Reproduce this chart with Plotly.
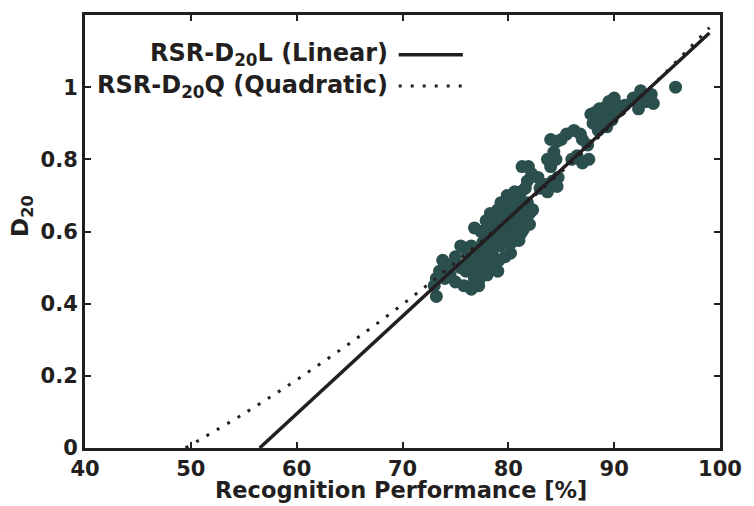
import plotly.graph_objects as go

# Scatter data: recognition performance [%] vs D20
perf = [95.8, 93.5, 93.0, 92.5, 91.8, 92.3, 93.7, 91.0, 90.5, 90.0, 89.5,
        89.0, 88.6, 88.3, 88.0, 88.8, 89.3, 89.8, 87.8, 88.5,
        86.8, 86.2, 85.5, 85.0, 87.0, 87.5, 84.0, 87.6, 87.0, 86.5, 86.0,
        84.5, 84.3, 84.0, 84.7, 84.2, 83.5, 83.0, 82.8,
        81.9, 82.2, 81.8, 81.6, 81.2, 81.0,
        80.0, 80.5, 79.5, 79.8, 80.3, 80.8, 81.3, 81.5, 82.0, 82.3,
        79.0, 79.3, 78.8, 78.5, 79.0, 79.6, 80.0, 80.4, 80.7, 81.1, 81.0,
        79.5, 79.0, 78.6, 78.2, 77.8, 78.0, 78.5, 79.2, 79.8, 80.3,
        80.2, 79.7, 79.1, 78.6, 78.1, 77.5, 77.0, 76.8, 77.4, 77.9, 78.3,
        79.9, 80.6, 81.0,
        76.5, 76.0, 75.5, 75.0, 76.3, 77.0, 77.6, 78.0, 76.8, 76.0, 75.5,
        74.8, 74.2, 73.8, 73.5, 74.5, 75.0, 75.8, 76.5, 74.0, 73.2, 73.0,
        73.2, 77.2, 78.5, 79.0,
        77.5, 77.8, 78.2, 78.8, 79.4, 80.0, 80.6, 81.2, 77.0, 76.6, 77.3,
        76.7, 78.4, 79.0, 79.5, 80.2, 80.8, 81.5, 82.0, 81.8, 80.5, 79.3,
        78.0, 77.6, 81.3, 81.9, 83.7, 84.6, 81.3, 83.7, 84.6,
        88.2, 88.7, 89.2, 89.6, 90.3, 92.8]
d20 = [1.00, 0.98, 0.96, 0.99, 0.97, 0.94, 0.955, 0.95, 0.935, 0.97, 0.96,
       0.93, 0.94, 0.915, 0.90, 0.90, 0.89, 0.91, 0.925, 0.88,
       0.87, 0.88, 0.87, 0.855, 0.855, 0.84, 0.855, 0.80, 0.79, 0.81, 0.80,
       0.80, 0.82, 0.78, 0.75, 0.74, 0.73, 0.72, 0.75,
       0.78, 0.76, 0.74, 0.72, 0.71, 0.69,
       0.68, 0.67, 0.67, 0.65, 0.65, 0.64, 0.66, 0.64, 0.65, 0.66,
       0.66, 0.64, 0.63, 0.62, 0.61, 0.62, 0.60, 0.62, 0.60, 0.59, 0.62,
       0.59, 0.58, 0.59, 0.60, 0.58, 0.56, 0.55, 0.56, 0.57, 0.57,
       0.54, 0.53, 0.52, 0.53, 0.52, 0.54, 0.55, 0.61, 0.60, 0.63, 0.65,
       0.70, 0.71, 0.575,
       0.56, 0.55, 0.56, 0.53, 0.52, 0.50, 0.49, 0.48, 0.47, 0.49, 0.50,
       0.51, 0.50, 0.52, 0.49, 0.48, 0.46, 0.45, 0.44, 0.47, 0.47, 0.45,
       0.42, 0.45, 0.50, 0.49,
       0.50, 0.52, 0.54, 0.57, 0.60, 0.63, 0.66, 0.68, 0.52, 0.50, 0.47,
       0.455, 0.58, 0.60, 0.64, 0.61, 0.62, 0.61, 0.62, 0.68, 0.69, 0.68,
       0.61, 0.57, 0.60, 0.66, 0.71, 0.725, 0.78, 0.80, 0.85,
       0.93, 0.92, 0.945, 0.925, 0.95, 0.965]

# Fitted curves
lin_x = [56.5, 99.0]
lin_y = [0.0, 1.15]
quad_x = [49.5, 55, 60, 65, 70, 75, 80, 85, 90, 95, 99]
quad_y = [0.0, 0.095, 0.189, 0.290, 0.398, 0.514, 0.636, 0.765, 0.902, 1.045, 1.165]

x_ticks = [40, 50, 60, 70, 80, 90, 100]
y_ticks = [0, 0.2, 0.4, 0.6, 0.8, 1]
y_tick_text = ["0", "0.2", "0.4", "0.6", "0.8", "1"]

INK = "#231f20"
DOT = "#2b4f4d"
FONT = "DejaVu Sans"

fig = go.Figure()
fig.add_trace(go.Scatter(x=perf, y=d20, mode="markers",
                         marker=dict(size=13, color=DOT, line=dict(width=0)),
                         showlegend=False, name="data"))
fig.add_trace(go.Scatter(x=quad_x, y=quad_y, mode="lines",
                         line=dict(color=INK, width=3, dash="3px,9px", shape="spline"),
                         name="RSR-D20Q (Quadratic)", showlegend=False))
fig.add_trace(go.Scatter(x=lin_x, y=lin_y, mode="lines",
                         line=dict(color=INK, width=3.5),
                         name="RSR-D20L (Linear)", showlegend=False))

axis_common = dict(showline=True, linecolor=INK, linewidth=3, mirror="ticks",
                   ticks="inside", ticklen=6, tickwidth=2, tickcolor=INK,
                   showgrid=False, zeroline=False,
                   tickfont=dict(family=FONT, size=21, color=INK, weight="bold"))

fig.update_xaxes(range=[40, 100], tickvals=x_ticks, **axis_common)
fig.update_yaxes(range=[0, 1.2], tickvals=y_ticks, ticktext=y_tick_text, **axis_common)

legend_font = dict(family=FONT, size=24, color=INK, weight="bold")
annotations = [
    dict(text="Recognition Performance [%]", x=0.498, y=0, xref="paper", yref="paper",
         xanchor="center", yanchor="bottom", yshift=-57, showarrow=False,
         font=dict(family=FONT, size=22.5, color=INK, weight="bold")),
    dict(text="D<sub>20</sub>", x=0, y=0.536, xref="paper", yref="paper",
         xanchor="center", yanchor="middle", xshift=-63, textangle=-90, showarrow=False,
         font=dict(family=FONT, size=23, color=INK, weight="bold")),
    dict(text="RSR-D<sub>20</sub>L (Linear)", x=0.480, y=0.908, xref="paper", yref="paper",
         xanchor="right", yanchor="middle", showarrow=False, font=legend_font),
    dict(text="RSR-D<sub>20</sub>Q (Quadratic)", x=0.480, y=0.836, xref="paper", yref="paper",
         xanchor="right", yanchor="middle", showarrow=False, font=legend_font),
]
shapes = [
    dict(type="line", xref="paper", yref="paper", x0=0.494, x1=0.595, y0=0.908, y1=0.908,
         line=dict(color=INK, width=3.5)),
    dict(type="line", xref="paper", yref="paper", x0=0.494, x1=0.595, y0=0.836, y1=0.836,
         line=dict(color=INK, width=3, dash="3px,9px")),
]

fig.update_layout(width=754, height=506,
                  margin=dict(l=85, r=27, t=13, b=58),
                  paper_bgcolor="white", plot_bgcolor="white",
                  annotations=annotations, shapes=shapes,
                  font=dict(family=FONT, color=INK))

fig.write_html("out.html",
               config={"displayModeBar": False, "staticPlot": True},
               post_script="document.body.style.margin='0px';document.body.style.overflow='hidden';")
